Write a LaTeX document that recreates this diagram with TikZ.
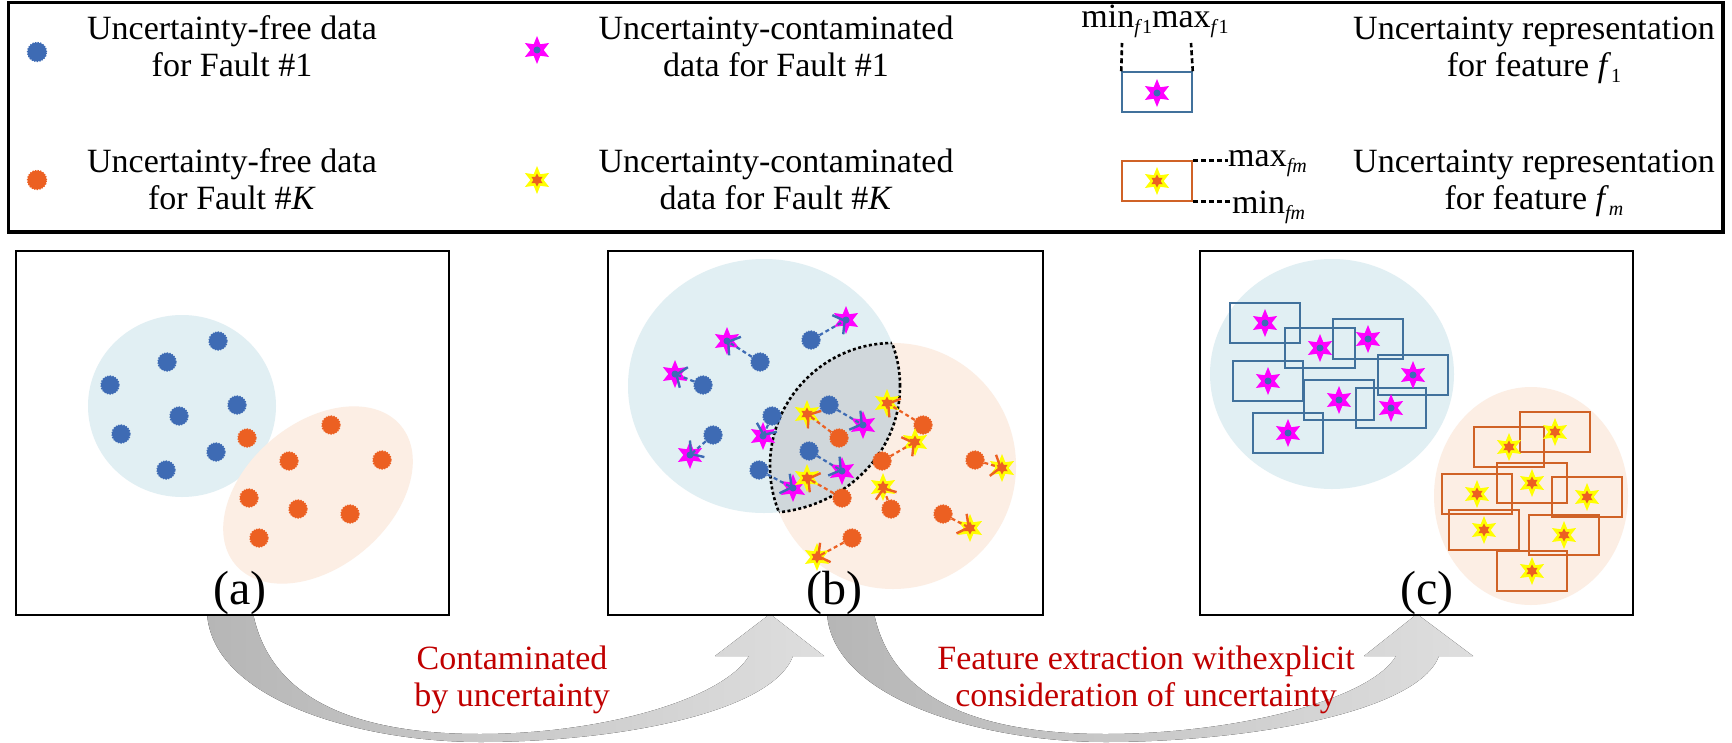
\documentclass[tikz,border=0pt]{standalone}
\usepackage{fontspec}
\setmainfont{Liberation Serif}
\usetikzlibrary{shapes.geometric,arrows.meta}
\definecolor{cBlue}{RGB}{62,107,180}
\definecolor{cOrange}{RGB}{236,96,34}
\definecolor{cLBlue}{RGB}{225,239,243}
\definecolor{cLOrange}{RGB}{252,238,228}
\definecolor{cMag}{RGB}{255,0,255}
\definecolor{cYel}{RGB}{255,255,0}
\definecolor{cLens}{RGB}{208,215,219}
\definecolor{cRed}{RGB}{192,0,0}
\definecolor{cRectB}{RGB}{65,113,156}
\definecolor{cRectO}{RGB}{208,98,38}
\definecolor{cGrayA}{RGB}{182,182,182}
\definecolor{cGrayB}{RGB}{222,222,222}
\newcommand{\sbx}[1]{\raisebox{-6bp}{\fontsize{20bp}{20bp}\selectfont #1}}
\begin{document}
\begin{tikzpicture}[x=1bp,y=-1bp,
  bdot/.style={circle,fill=cBlue,draw=cBlue,line width=1.4bp,dash pattern=on 1.3bp off 1.3bp,minimum size=18bp,inner sep=0},
  odot/.style={circle,fill=cOrange,draw=cOrange,line width=1.4bp,dash pattern=on 1.3bp off 1.3bp,minimum size=18bp,inner sep=0},
  mstar/.style={star,star points=6,star point ratio=2.1,fill=cMag,minimum size=28bp,inner sep=0},
  ystar/.style={star,star points=6,star point ratio=2.1,fill=cYel,minimum size=28bp,inner sep=0},
  bcore/.style={circle,fill=cBlue,minimum size=7bp,inner sep=0},
  ocore/.style={star,star points=6,star point ratio=1.8,fill=cOrange,minimum size=13bp,inner sep=0},
  barrow/.style={draw=cBlue,line width=2.2bp,dash pattern=on 4bp off 3bp,-{Straight Barb[length=8bp,width=22bp,line width=2.4bp]}},
  oarrow/.style={draw=cOrange,line width=2.2bp,dash pattern=on 4bp off 3bp,-{Straight Barb[length=8bp,width=22bp,line width=2.4bp]}},
  brect/.style={draw=cRectB,line width=1.5bp,minimum width=70bp,minimum height=40bp,inner sep=0},
  orect/.style={draw=cRectO,line width=1.5bp,minimum width=70bp,minimum height=40bp,inner sep=0},
  panel/.style={draw=black,line width=2.5bp,fill=white},
  plabel/.style={font=\fontsize{48bp}{52bp}\selectfont,anchor=base,inner sep=0},
  legtxt/.style={font=\fontsize{34bp}{37bp}\selectfont,align=center,inner sep=0},
  redtxt/.style={legtxt,text=cRed},
  ldash/.style={draw=black,line width=2.6bp,dash pattern=on 5bp off 3bp},
  lens/.style={draw=black,line width=2.6bp,dash pattern=on 3bp off 2.5bp}
]
\useasboundingbox (0,0) rectangle (1732,743);

% ---------- legend ----------
\node[draw=black,line width=3.5bp,minimum width=1714.5bp,minimum height=229.5bp,inner sep=0] (legend) at (865.75,117.25) {};
\node[bdot,minimum size=19bp] (lg1) at (37,52) {};
\node[odot,minimum size=19bp] (lg2) at (37,180) {};
\node[mstar] (lg3) at (537,50) {}; \node[bcore] (lg3c) at (lg3) {};
\node[ystar] (lg4) at (537,180) {}; \node[ocore] (lg4c) at (lg4) {};
\node[brect] (lg5) at (1157,92) {};
\node[mstar] (lg5s) at (1157,93) {}; \node[bcore] (lg5c) at (lg5s) {};
\node[orect] (lg6) at (1157,181) {};
\node[ystar] (lg6s) at (1157,181) {}; \node[ocore] (lg6c) at (lg6s) {};

\node[legtxt] (t1) at (232,50.5) {\strut Uncertainty-free data\\\strut for Fault \#1};
\node[legtxt] (t2) at (232,184) {\strut Uncertainty-free data\\\strut for Fault \#\textit{K}};
\node[legtxt] (t3) at (776,50.5) {\strut Uncertainty-contaminated\\\strut data for Fault \#1};
\node[legtxt] (t4) at (776,184) {\strut Uncertainty-contaminated\\\strut data for Fault \#\textit{K}};
\node[legtxt] (t5) at (1534,50.5) {\strut Uncertainty representation\\\strut for feature \textit{f}\sbx{1}};
\node[legtxt] (t6) at (1534,184) {\strut Uncertainty representation\\\strut for feature \textit{f}\sbx{\textit{m}}};

\node[legtxt,anchor=base] (mm) at (1155,28) {min\sbx{\textit{f}1}max\sbx{\textit{f}1}};
\coordinate (d1) at (1122,43);
\coordinate (d2) at (1191,43);
\draw[ldash] (lg5.north west) -- (d1);
\draw[ldash] (lg5.north east) -- (d2);
\node[legtxt,anchor=base west] (mx) at (1228,166) {max\sbx{\textit{fm}}};
\node[legtxt,anchor=base west] (mn) at (1232,213) {min\sbx{\textit{fm}}};
\draw[ldash] (lg6.north east) -- (lg6.north east -| mx.west);
\draw[ldash] (lg6.south east) -- (lg6.south east -| mn.west);

% ---------- gray curved arrows ----------
\fill[left color=cGrayA,right color=cGrayB]
  (207,613) .. controls (212,700) and (360,742) .. (480,742)
  .. controls (620,742) and (772,712) .. (793,656)
  -- (824,656) -- (770,614) -- (715,656) -- (749,656)
  .. controls (722,700) and (600,734) .. (480,734)
  .. controls (372,734) and (272,708) .. (253,613) -- cycle;
\fill[left color=cGrayA,right color=cGrayB]
  (827,613) .. controls (832,700) and (985,742) .. (1105,742)
  .. controls (1250,742) and (1418,712) .. (1439,656)
  -- (1473,656) -- (1417,614) -- (1364,656) -- (1396,656)
  .. controls (1370,700) and (1235,734) .. (1105,734)
  .. controls (995,734) and (893,708) .. (874,613) -- cycle;

\node[redtxt] (r1) at (512,681) {\strut Contaminated\\\strut by uncertainty};
\node[redtxt] (r2) at (1146,681) {\strut Feature extraction withexplicit\\\strut consideration of uncertainty};

% ---------- panel (a) ----------
\node[panel,minimum width=433bp,minimum height=364bp,inner sep=0] (pa) at (232.5,433) {};
\fill[cLBlue] (182,406) ellipse [x radius=94bp,y radius=91bp];
\fill[cLOrange,rotate around={40:(318,495)}] (318,495) ellipse [x radius=108bp,y radius=72bp];
\foreach \i/\x/\y in {1/218/341,2/167/362,3/110/385,4/237/405,5/179/416,6/121/434,7/216/452,8/166/470}
  \node[bdot] (ab\i) at (\x,\y) {};
\foreach \i/\x/\y in {1/247/438,2/331/425,3/289/461,4/382/460,5/249/498,6/298/509,7/350/514,8/259/538}
  \node[odot] (ao\i) at (\x,\y) {};
\node[plabel] (la) at (240,604) {(a)};

% ---------- panel (b) ----------
\node[panel,minimum width=435bp,minimum height=364bp,inner sep=0] (pb) at (825.5,433) {};
\fill[cLBlue] (764,386) ellipse [x radius=136bp,y radius=127bp];
\fill[cLOrange] (893,466) circle [radius=123bp];
\begin{scope}
  \clip (764,386) ellipse [x radius=136bp,y radius=127bp];
  \fill[cLens] (893,466) circle [radius=123bp];
  \draw[lens] (893,466) circle [radius=123bp];
\end{scope}
\begin{scope}
  \clip (893,466) circle [radius=123bp];
  \draw[lens] (764,386) ellipse [x radius=136bp,y radius=127bp];
\end{scope}
\foreach \i/\dx/\dy/\sx/\sy in {1/811/340/846/320,2/760/362/727/341,3/703/385/675/374,4/772/416/763/436,
    5/713/435/690/455,6/829/405/863/425,7/809/451/842/471,8/759/470/793/488}{
  \node[bdot] (bd\i) at (\dx,\dy) {};
  \node[mstar] (bs\i) at (\sx,\sy) {};
  \node[bcore] (bc\i) at (bs\i) {};
}
\foreach \i/\dx/\dy/\sx/\sy in {1/839/438/807/414,2/923/425/887/403,3/882/461/915/442,4/975/460/1002/468,
    5/842/498/807/478,6/891/509/883/487,7/943/514/970/528,8/852/538/817/557}{
  \node[odot] (od\i) at (\dx,\dy) {};
  \node[ystar] (os\i) at (\sx,\sy) {};
  \node[ocore] (oc\i) at (os\i) {};
}
\foreach \i in {1,...,8}{
  \draw[barrow] (bd\i) -- (bs\i.center);
  \draw[oarrow] (od\i) -- (os\i.center);
}
\node[plabel] (lb) at (834,604) {(b)};

% ---------- panel (c) ----------
\node[panel,minimum width=433bp,minimum height=364bp,inner sep=0] (pc) at (1416.5,433) {};
\fill[cLBlue] (1332,374) ellipse [x radius=122bp,y radius=115bp];
\fill[cLOrange] (1531,496) ellipse [x radius=97bp,y radius=109bp];
\foreach \i/\x/\y in {1/1265/323,2/1320/348,3/1368/339,4/1268/381,5/1413/375,6/1339/400,7/1391/408,8/1288/433}{
  \node[brect] (cr\i) at (\x,\y) {};
}
\foreach \i/\x/\y in {1/1555/432,2/1509/447,3/1532/483,4/1477/494,5/1587/497,6/1484/530,7/1564/535,8/1532/571}{
  \node[orect] (co\i) at (\x,\y) {};
}
\foreach \i in {1,...,8}{
  \node[mstar] (cm\i) at (cr\i) {}; \node[bcore] (cmc\i) at (cm\i) {};
  \node[ystar] (cy\i) at (co\i) {}; \node[ocore] (cyc\i) at (cy\i) {};
}
\node[plabel] (lc) at (1427,604) {(c)};
\end{tikzpicture}
\end{document}
